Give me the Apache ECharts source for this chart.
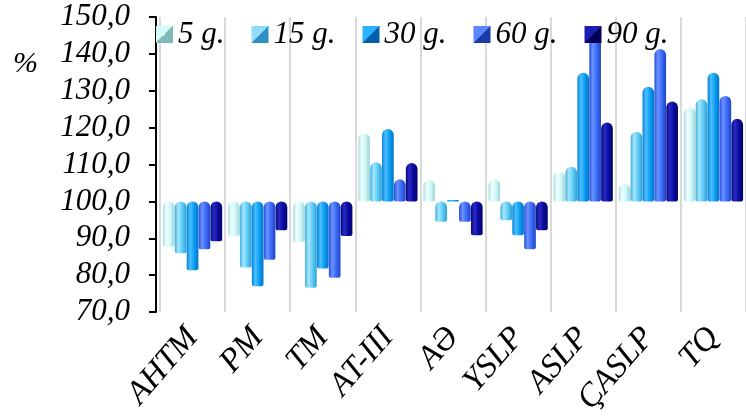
<!DOCTYPE html>
<html>
<head>
<meta charset="utf-8">
<script src="https://cdn.jsdelivr.net/npm/echarts@6/dist/echarts.min.js"></script>
<style>
  html, body { margin: 0; padding: 0; background: #fff; }
  #chart { width: 746px; height: 419px; }
</style>
</head>
<body>
<div id="chart"></div>
<script>
// Indicators (percent of baseline)
const categories = ['AHTM', 'PM', 'TM', 'AT-III', 'AƏ', 'YSLP', 'ASLP', 'ÇASLP', 'TQ'];
const seriesNames = ['5 g.', '15 g.', '30 g.', '60 g.', '90 g.'];

const values5  = [87.7, 90.6, 89.0, 118.5, 105.8, 106.0, 108.0, 104.7, 125.5];
const values15 = [85.9, 82.1, 76.6, 110.6,  94.5,  94.9, 109.4, 118.9, 127.7];
const values30 = [81.3, 77.0, 81.8, 119.6, 100.4,  90.8, 134.9, 131.1, 134.9];
const values60 = [87.0, 84.2, 79.3, 106.0,  94.5,  87.0, 145.6, 141.3, 128.6];
const values90 = [89.2, 92.2, 90.6, 110.4,  90.8,  92.2, 121.4, 127.1, 122.4];

const yTicks = [70, 80, 90, 100, 110, 120, 130, 140, 150];
const baseline = 100;

// cylinder-like shading per series: [edge, highlight, body, darkEdge]
const shades = [
  ['#a9dede', '#f0ffff', '#cdf6f6', '#9dd2d4'],
  ['#3fb0e0', '#a6e6ff', '#5ccbf7', '#2f9fd0'],
  ['#0580d8', '#4dc0ff', '#0a9cf2', '#0372c4'],
  ['#2650d8', '#6b92ff', '#3a68f6', '#1f44c4'],
  ['#05057e', '#2a2ac4', '#0a0a9e', '#03036a']
];
const legendShades = [
  ['#7fb9b9', '#d6fbfb'],
  ['#2f8fc0', '#8fdcff'],
  ['#0360a8', '#2bb0ff'],
  ['#1a3aa8', '#5a86ff'],
  ['#020255', '#1d1db0']
];

const allValues = [values5, values15, values30, values60, values90];
const FONT = 'Liberation Serif';

function grad(s) {
  return new echarts.graphic.LinearGradient(0, 0, 1, 0, [
    { offset: 0, color: s[0] },
    { offset: 0.3, color: s[1] },
    { offset: 0.65, color: s[2] },
    { offset: 1, color: s[3] }
  ]);
}

function legendGrad(s) {
  return new echarts.graphic.LinearGradient(0, 0, 1, 1, [
    { offset: 0, color: s[1] },
    { offset: 0.5, color: s[1] },
    { offset: 0.5, color: s[0] },
    { offset: 1, color: s[0] }
  ]);
}

const chart = echarts.init(document.getElementById('chart'), null, { renderer: 'canvas' });

const series = seriesNames.map((name, i) => ({
  name: name,
  type: 'bar',
  // bars grow from the 100 % line
  data: allValues[i].map(v => +(v - baseline).toFixed(2)),
  barGap: '2%',
  barCategoryGap: '9%',
  itemStyle: {
    color: grad(shades[i]),
    borderRadius: [6, 6, 2, 2]
  },
  emphasis: { disabled: true }
}));

chart.setOption({
  animation: false,
  title: {
    text: '%',
    left: 8,
    top: 44,
    textStyle: { fontFamily: FONT, fontStyle: 'italic', fontWeight: 'normal', fontSize: 30, color: '#000' }
  },
  legend: {
    data: seriesNames.map((n, i) => ({ name: n, itemStyle: { color: legendGrad(legendShades[i]) } })),
    left: 151,
    top: 14,
    icon: 'rect',
    itemWidth: 17,
    itemHeight: 17,
    itemGap: 27,
    textStyle: { fontFamily: FONT, fontStyle: 'italic', fontSize: 31, color: '#000' }
  },
  grid: { left: 160, right: -5, top: 17, bottom: 107, containLabel: false },
  xAxis: {
    type: 'category',
    data: categories,
    axisLine: { show: false },
    axisTick: { show: false },
    splitLine: { show: true, lineStyle: { color: '#d9d9d9', width: 2 } },
    axisLabel: {
      rotate: 49,
      margin: 20,
      fontFamily: FONT,
      fontStyle: 'italic',
      fontSize: 33,
      color: '#000'
    }
  },
  yAxis: {
    type: 'value',
    min: yTicks[0] - baseline,
    max: yTicks[yTicks.length - 1] - baseline,
    interval: yTicks[1] - yTicks[0],
    offset: 4,
    splitLine: { show: false },
    axisLine: { show: true, lineStyle: { color: '#000', width: 2 } },
    axisTick: { show: true, length: 7, lineStyle: { color: '#000', width: 2 } },
    axisLabel: {
      margin: 26,
      fontFamily: FONT,
      fontStyle: 'italic',
      fontSize: 31,
      color: '#000',
      formatter: v => (v + baseline).toFixed(1).replace('.', ',')
    }
  },
  series: series
});
</script>
</body>
</html>
